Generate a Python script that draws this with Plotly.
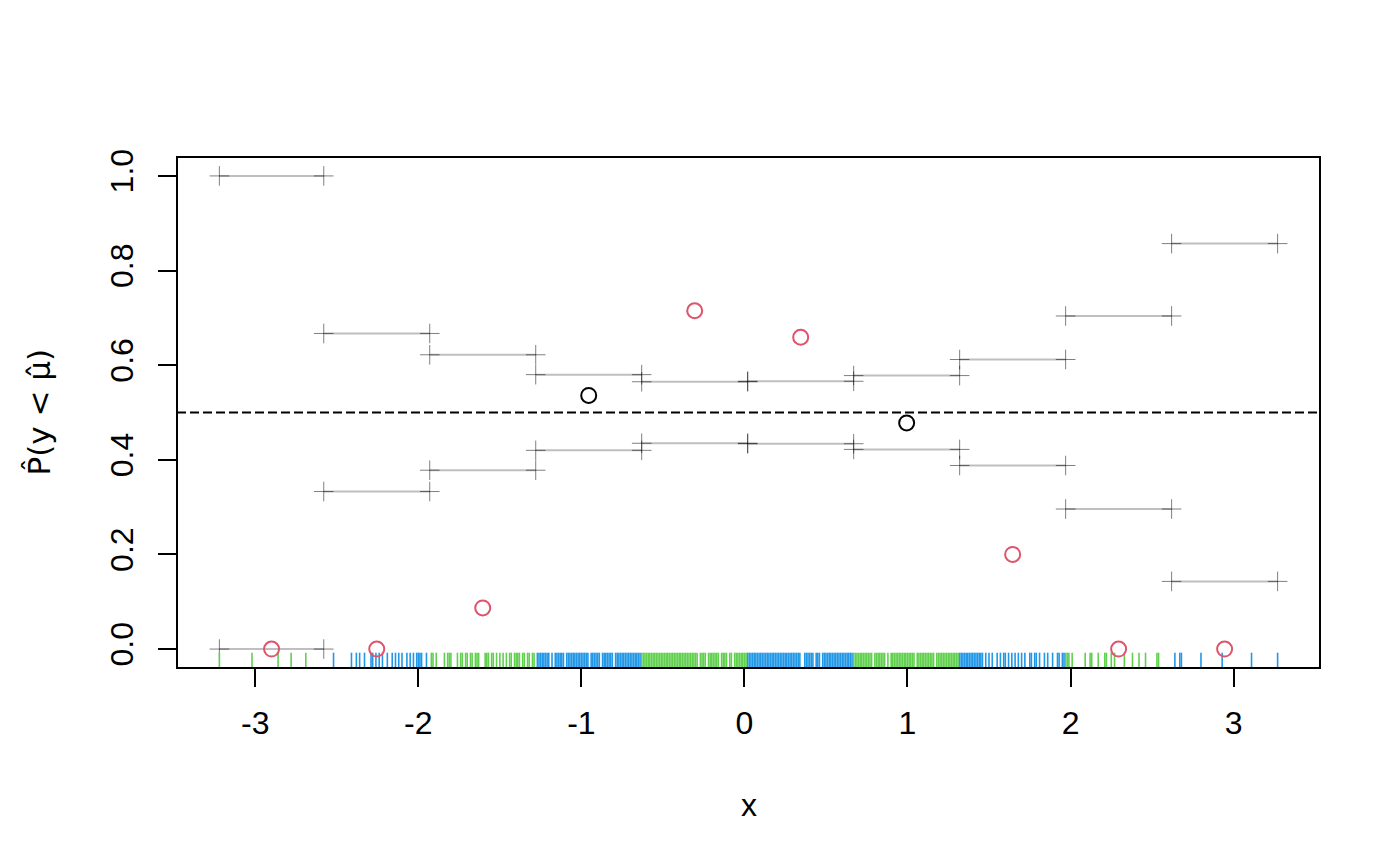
import plotly.graph_objects as go

# ---- data ----
breaks = [-3.22, -2.58, -1.93, -1.28, -0.63, 0.02, 0.67, 1.32, 1.97, 2.62, 3.27]
lower = [0.0, 0.333, 0.378, 0.42, 0.435, 0.434, 0.422, 0.388, 0.296, 0.143]
upper = [1.0, 0.667, 0.622, 0.58, 0.565, 0.566, 0.578, 0.612, 0.704, 0.857]
observed = [0.0, 0.0, 0.087, 0.536, 0.715, 0.659, 0.478, 0.2, 0.0, 0.0]

rug_green = [
    -3.22, -3.02, -2.86, -2.78, -2.69,
    -1.92, -1.91, -1.89, -1.84, -1.82, -1.81, -1.80, -1.76, -1.74, -1.73, -1.71, -1.70,
    -1.68, -1.67, -1.65, -1.64, -1.63, -1.59, -1.58, -1.57, -1.55, -1.54, -1.52, -1.50,
    -1.48, -1.46, -1.44, -1.43, -1.41, -1.40, -1.39, -1.38, -1.36, -1.35, -1.33, -1.32,
    -1.30, -1.29,
    -0.63, -0.62, -0.61, -0.60, -0.59, -0.58, -0.57, -0.56, -0.55, -0.54, -0.53, -0.52,
    -0.51, -0.50, -0.49, -0.48, -0.47, -0.46, -0.45, -0.44, -0.43, -0.42, -0.41, -0.40,
    -0.39, -0.38, -0.37, -0.36, -0.35, -0.34, -0.33, -0.32, -0.31, -0.30, -0.29, -0.27,
    -0.26, -0.25, -0.24, -0.22, -0.21, -0.20, -0.19, -0.18, -0.17, -0.16, -0.14, -0.13,
    -0.12, -0.11, -0.09, -0.08, -0.06, -0.05, -0.04, -0.03, -0.02, -0.01, 0.00, 0.01,
    0.67, 0.68, 0.69, 0.70, 0.71, 0.72, 0.73, 0.74, 0.75, 0.76, 0.77, 0.78, 0.80, 0.81,
    0.82, 0.83, 0.84, 0.85, 0.86, 0.88, 0.90, 0.91, 0.92, 0.93, 0.94, 0.95, 0.96, 0.97,
    0.98, 0.99, 1.00, 1.01, 1.02, 1.03, 1.04, 1.06, 1.07, 1.08, 1.09, 1.10, 1.11, 1.12,
    1.13, 1.14, 1.15, 1.16, 1.18, 1.19, 1.20, 1.21, 1.22, 1.23, 1.24, 1.25, 1.26, 1.27,
    1.28, 1.29, 1.30, 1.31,
    1.97, 1.98, 1.99, 2.01, 2.09, 2.12, 2.13, 2.17, 2.21, 2.22, 2.25, 2.27, 2.33, 2.38,
    2.42, 2.46, 2.53, 2.54,
]
rug_blue = [
    -2.52, -2.41, -2.38, -2.36, -2.33, -2.29, -2.28, -2.26, -2.24, -2.22, -2.19, -2.16,
    -2.14, -2.12, -2.10, -2.07, -2.05, -2.03, -2.01, -2.00, -1.99, -1.98, -1.95,
    -1.27, -1.26, -1.25, -1.24, -1.23, -1.22, -1.21, -1.20, -1.18, -1.16, -1.15, -1.14,
    -1.13, -1.12, -1.11, -1.09, -1.08, -1.07, -1.06, -1.05, -1.04, -1.03, -1.02, -1.01,
    -1.00, -0.99, -0.98, -0.97, -0.96, -0.94, -0.93, -0.92, -0.91, -0.90, -0.89, -0.87,
    -0.86, -0.85, -0.84, -0.83, -0.82, -0.81, -0.79, -0.78, -0.77, -0.76, -0.75, -0.74,
    -0.73, -0.72, -0.71, -0.70, -0.69, -0.68, -0.67, -0.66, -0.65, -0.64,
    0.02, 0.03, 0.04, 0.05, 0.06, 0.07, 0.08, 0.09, 0.10, 0.11, 0.12, 0.13, 0.14, 0.15,
    0.16, 0.17, 0.18, 0.19, 0.20, 0.21, 0.22, 0.23, 0.24, 0.25, 0.26, 0.27, 0.28, 0.29,
    0.30, 0.31, 0.32, 0.33, 0.34, 0.37, 0.38, 0.39, 0.40, 0.41, 0.42, 0.44, 0.45, 0.46,
    0.48, 0.49, 0.50, 0.51, 0.52, 0.53, 0.54, 0.55, 0.56, 0.57, 0.58, 0.59, 0.60, 0.61,
    0.62, 0.63, 0.64, 0.65, 0.66,
    1.32, 1.33, 1.34, 1.35, 1.36, 1.37, 1.38, 1.39, 1.40, 1.41, 1.42, 1.43, 1.44, 1.45,
    1.46, 1.48, 1.50, 1.52, 1.55, 1.57, 1.59, 1.60, 1.62, 1.64, 1.66, 1.68, 1.70, 1.72,
    1.75, 1.76, 1.78, 1.79, 1.81, 1.84, 1.86, 1.89, 1.92, 1.93, 1.95, 1.96,
    2.64, 2.67, 2.68, 2.80, 2.93, 3.11, 3.27,
]

x_ticks = [-3, -2, -1, 0, 1, 2, 3]
x_tick_labels = ["-3", "-2", "-1", "0", "1", "2", "3"]
y_ticks = [0.0, 0.2, 0.4, 0.6, 0.8, 1.0]
y_tick_labels = ["0.0", "0.2", "0.4", "0.6", "0.8", "1.0"]

X_RANGE = [-3.48, 3.53]
Y_RANGE = [-0.04, 1.04]
RUG_TOP = -0.0076

FONT = "Liberation Sans"
FS = 32
RED = "#DF536B"
BLUE = "#2297E6"
GREEN = "#61D04F"

fig = go.Figure()

# interval segments
seg_x, seg_y = [], []
for i in range(len(lower)):
    for v in (lower[i], upper[i]):
        seg_x += [breaks[i], breaks[i + 1], None]
        seg_y += [v, v, None]
fig.add_trace(go.Scatter(x=seg_x, y=seg_y, mode="lines",
                         line=dict(color="rgba(0,0,0,0.25)", width=2),
                         hoverinfo="skip", showlegend=False))

# crosses at segment ends
px_, py_ = [], []
for i in range(len(lower)):
    for v in (lower[i], upper[i]):
        px_ += [breaks[i], breaks[i + 1]]
        py_ += [v, v]
fig.add_trace(go.Scatter(x=px_, y=py_, mode="markers",
                         marker=dict(symbol="cross-thin", size=14,
                                     line=dict(color="rgba(0,0,0,0.5)", width=1)),
                         hoverinfo="skip", showlegend=False))

# rug
def rug(vals, color):
    xs, ys = [], []
    for v in vals:
        xs += [v, v, None]
        ys += [Y_RANGE[0], RUG_TOP, None]
    fig.add_trace(go.Scatter(x=xs, y=ys, mode="lines",
                             line=dict(color=color, width=1.6),
                             hoverinfo="skip", showlegend=False))

rug(rug_green, GREEN)
rug(rug_blue, BLUE)

# observed points at bin midpoints
mids = [(breaks[i] + breaks[i + 1]) / 2 for i in range(len(observed))]
cols = ["black" if lower[i] < observed[i] < upper[i] else RED for i in range(len(observed))]
fig.add_trace(go.Scatter(x=mids, y=observed, mode="markers",
                         marker=dict(symbol="circle-open", size=15,
                                     color=cols, line=dict(color=cols, width=2)),
                         hoverinfo="skip", showlegend=False))

# dashed reference line
fig.add_shape(type="line", xref="x domain", yref="y", x0=0, x1=1, y0=0.5, y1=0.5,
              line=dict(color="black", width=2, dash="9px,4px"))
# box
fig.add_shape(type="rect", xref="x domain", yref="y domain", x0=0, x1=1, y0=0, y1=1,
              line=dict(color="black", width=2))

fig.update_layout(
    width=1392, height=857,
    margin=dict(l=169, r=80, t=149, b=197),
    paper_bgcolor="white", plot_bgcolor="white",
    font=dict(family=FONT, size=FS, color="black"),
    xaxis=dict(range=X_RANGE, tickvals=x_ticks, ticktext=x_tick_labels,
               ticks="outside", ticklen=18, tickwidth=2, tickcolor="black",
               ticklabelstandoff=9,
               showgrid=False, zeroline=False, showline=False,
               tickfont=dict(family=FONT, size=FS)),
    yaxis=dict(range=Y_RANGE, tickvals=y_ticks, ticktext=y_tick_labels,
               ticks="outside", ticklen=18, tickwidth=2, tickcolor="black",
               tickangle=-90, ticklabelstandoff=12,
               showgrid=False, zeroline=False, showline=False,
               tickfont=dict(family=FONT, size=FS)),
)

fig.add_annotation(text="x", xref="paper", yref="paper", x=0.5, y=0,
                   xanchor="center", yanchor="middle", yshift=-137,
                   showarrow=False, font=dict(family=FONT, size=FS))
fig.add_annotation(text="P\u0302(y < \u03bc\u0302)", xref="paper", yref="paper", x=0, y=0.5,
                   xanchor="center", yanchor="middle", xshift=-139, textangle=-90,
                   showarrow=False, font=dict(family="DejaVu Sans", size=31))

fig.write_html("out.html")
